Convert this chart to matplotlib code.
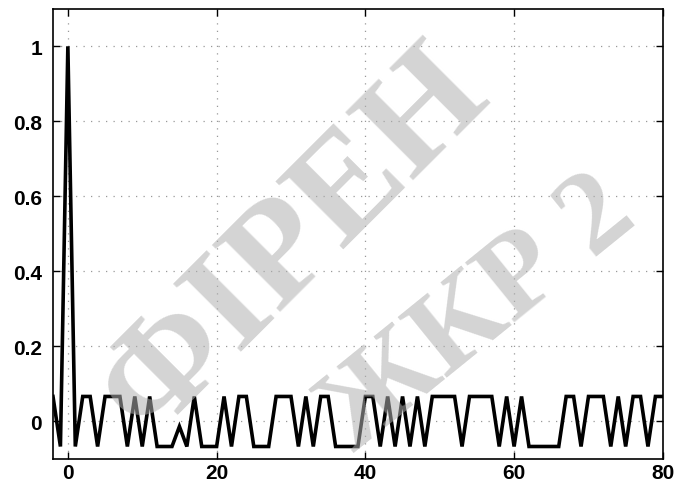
import matplotlib
matplotlib.use("Agg")
import matplotlib.pyplot as plt
import numpy as np

# lag values and autocorrelation (units of 1/15 except main peak)
lags = list(range(-2, 81))
levels = [1, -1, 15, -1, 1, 1, -1, 1, 1, 1,        # -2 .. 7
          -1, 1, -1, 1, -1, -1, -1, -0.2, -1, 1,   # 8 .. 17
          -1, -1, -1, 1, -1, 1, 1, -1, -1, -1,     # 18 .. 27
          1, 1, 1, -1, 1, -1, 1, 1, -1, -1,        # 28 .. 37
          -1, -1, 1, 1, -1, 1, -1, 1, -1, 1,       # 38 .. 47
          -1, 1, 1, 1, 1, -1, 1, 1, 1, 1,          # 48 .. 57
          -1, 1, -1, 1, -1, -1, -1, -1, -1, 1,     # 58 .. 67
          1, -1, 1, 1, 1, -1, 1, -1, 1, 1,         # 68 .. 77
          -1, 1, 1]                                # 78 .. 80
values = [v / 15 for v in levels]

xticks = [0, 20, 40, 60, 80]
yticks = [0, 0.2, 0.4, 0.6, 0.8, 1]
yticklabels = ["0", "0.2", "0.4", "0.6", "0.8", "1"]

fig = plt.figure(figsize=(6.75, 4.89), dpi=100)
ax = fig.add_axes([0.0785, 0.0593, 0.9035, 0.9207])
ax.plot(lags, values, color="black", lw=2.6, solid_joinstyle="miter")
ax.set_xlim(-2, 80)
ax.set_ylim(-0.1, 1.1)
ax.set_xticks(xticks)
ax.set_yticks(yticks)
ax.set_yticklabels(yticklabels)
ax.grid(True, linestyle=(0, (1, 5)), color="#999999", lw=0.9)
ax.tick_params(direction="in", top=True, right=True, length=5, width=1)
ax.tick_params(axis="x", pad=3)
ax.tick_params(axis="y", pad=8)
for lab in ax.get_xticklabels() + ax.get_yticklabels():
    lab.set_fontfamily("Liberation Sans")
    lab.set_fontweight("bold")
    lab.set_fontsize(15)
for s in ax.spines.values():
    s.set_linewidth(1.2)

# watermark
fig.text(0.435, 0.505, "ФIPEH", fontsize=106, fontfamily="Liberation Serif",
         fontweight="bold", color="#b0b0b0", alpha=0.55, rotation=45,
         ha="center", va="center")
fig.text(0.71, 0.355, "ЖКР 2", fontsize=86, fontfamily="Liberation Serif",
         fontweight="bold", color="#b0b0b0", alpha=0.55, rotation=39,
         ha="center", va="center")

fig.savefig("out.png", dpi=100)
